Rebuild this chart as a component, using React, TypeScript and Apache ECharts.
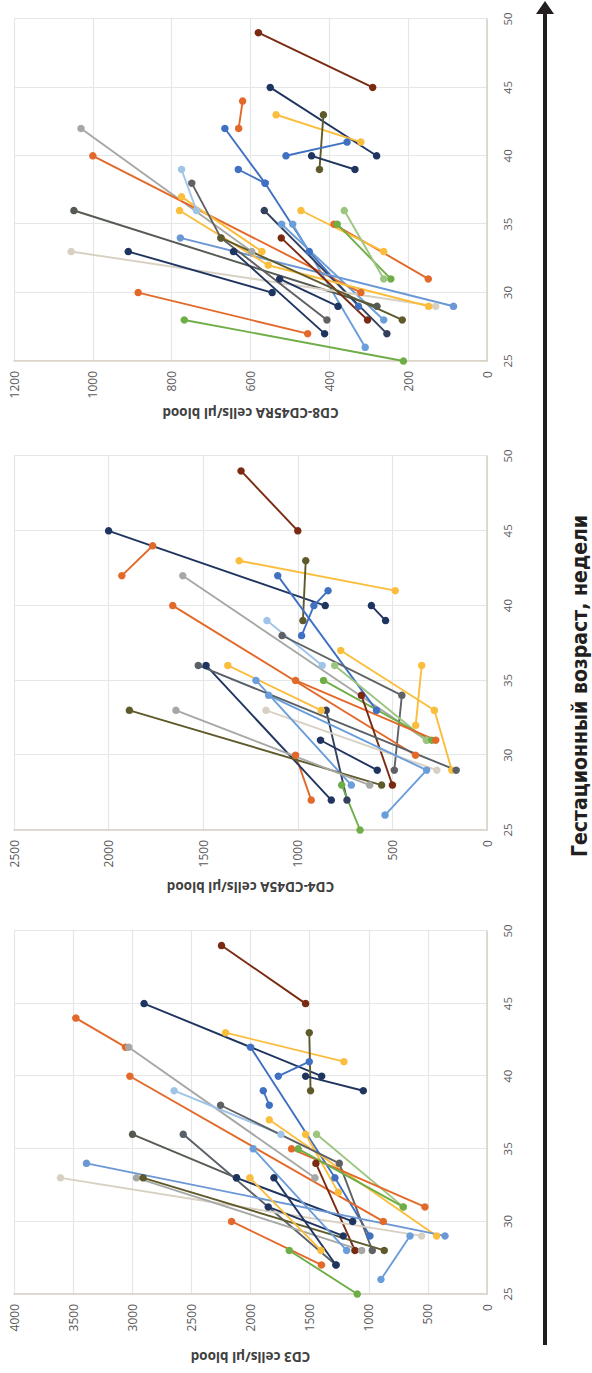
import React, { useEffect, useRef } from "react";
import * as echarts from "echarts";

// ---------- data ----------
const weekTicks = [25, 30, 35, 40, 45, 50];
const cd3Ticks = [0, 500, 1000, 1500, 2000, 2500, 3000, 3500, 4000];
const cd4Ticks = [0, 500, 1000, 1500, 2000, 2500];
const cd8Ticks = [0, 200, 400, 600, 800, 1000, 1200];

const axisTitles = ["CD3 cells/μl blood", "CD4-CD45A cells/μl blood", "CD8-CD45RA cells/μl blood"];
const weekTitle = "Гестационный возраст, недели";

// CD3 panel: colour group, gestational weeks, cells/μl
const cd3Group = ["brown", "navy", "orange", "lightgray", "yellow", "olive", "blue", "navy", "blue", "blue",
  "yellow", "yellow", "lightgreen", "lightblue", "darkgray", "orange", "orange", "green", "brown", "darktex",
  "navy", "graytex", "bluetex", "beige", "lightgray", "olive", "navy", "navy", "yellow", "skyblue",
  "orange", "green", "skyblue"];
const cd3Weeks = [[49, 45], [45, 40], [44, 42], [42, 33], [43, 41], [43, 39], [41, 40], [40, 39], [42, 33, 29], [39, 38],
  [37, 29], [36, 32], [36, 31], [39, 36], [38, 34, 28], [40, 30], [35, 31], [35, 31], [34, 28], [36, 33],
  [33, 30], [36, 27], [34, 29], [33, 29], [33, 28], [33, 28], [31, 29], [33, 27], [33, 28], [35, 28],
  [30, 27], [28, 25], [29, 26]];
const cd3Cells = [[2245, 1534], [2900, 1398], [3477, 3057], [3030, 1455], [2211, 1210], [1503, 1492], [1503, 1765], [1534, 1046], [2000, 1286, 990], [1892, 1841],
  [1841, 426], [1534, 1258], [1441, 708], [2646, 1743], [2253, 1249, 970], [3020, 877], [1653, 525], [1597, 708], [1447, 1117], [2998, 2118],
  [2118, 1136], [2569, 1277], [3387, 355], [3607, 553], [2964, 1060], [2908, 869], [1850, 1216], [1802, 1277], [2005, 1404], [1977, 1187],
  [2160, 1400], [1672, 1097], [651, 897]];

// CD4-CD45A panel
const cd4Group = ["brown", "navy", "orange", "yellow", "lightgray", "olive", "blue", "navy", "blue", "lightblue",
  "darkgray", "yellow", "yellow", "lightgreen", "green", "orange", "orange", "brown", "navytex", "yellow",
  "beige", "skyblue", "skyblue", "navy", "orange", "navy", "graytex", "olive", "lightgray", "green"];
const cd4Weeks = [[49, 45], [45, 40], [42, 44], [43, 41], [42, 31], [43, 39], [38, 40, 41], [40, 39], [42, 33], [39, 36],
  [38, 34, 29], [37, 33, 29], [36, 32], [36, 31], [35, 31], [35, 31], [40, 30], [34, 28], [33, 27], [36, 33],
  [33, 29], [35, 28], [34, 29, 26], [31, 29], [30, 27], [36, 27], [36, 29], [33, 28], [33, 28], [28, 25]];
const cd4Cells = [[1300, 1000], [2000, 855], [1930, 1767], [1310, 485], [1608, 320], [958, 973], [980, 915, 840], [611, 536], [1106, 584], [1163, 871],
  [1083, 450, 490], [773, 278, 186], [345, 377], [805, 320], [864, 292], [1012, 271], [1661, 378], [664, 500], [850, 740], [1370, 876],
  [1168, 265], [1221, 717], [1154, 319, 539], [880, 580], [1012, 929], [1485, 823], [1526, 163], [1890, 557], [1644, 620], [768, 671]];

// CD8-CD45RA panel
const cd8Group = ["brown", "navy", "yellow", "olive", "blue", "navy", "orange", "blue", "blue", "skyblue",
  "skyblue", "lightgray", "orange", "darktex", "navytex", "beige", "navy", "bluetex", "navy", "yellow",
  "yellow", "orange", "green", "orange", "yellow", "green", "lightgreen", "brown", "navy", "lightblue",
  "darkgray", "olive"];
const cd8Weeks = [[49, 45], [45, 40], [43, 41], [43, 39], [40, 41], [40, 39], [44, 42], [42, 38, 33, 29], [39, 38], [35, 28],
  [35, 26], [42, 33], [40, 30], [36, 29], [36, 27], [33, 29], [33, 30], [34, 29], [33, 27], [37, 33],
  [36, 32, 29], [30, 27], [28, 25], [35, 31], [36, 33], [35, 31], [36, 31], [34, 28], [31, 29], [39, 36],
  [38, 34, 28], [34, 28]];
const cd8Cells = [[580, 290], [550, 280], [535, 320], [415, 425], [510, 355], [445, 335], [620, 630], [665, 563, 451, 326], [631, 563], [521, 262],
  [493, 309], [1030, 597], [1000, 320], [1048, 279], [565, 254], [1055, 130], [910, 545], [778, 85], [643, 412], [775, 571],
  [780, 555, 148], [885, 455], [768, 212], [388, 149], [472, 262], [380, 244], [362, 262], [522, 303], [526, 378], [775, 737],
  [749, 675, 406], [675, 215]];

// ---------- styles ----------
const PALETTE: Record<string, string> = {
  brown: "#7a2a10",
  navy: "#1f3560",
  navytex: "#33415c",
  orange: "#e2692a",
  lightgray: "#a6a8a4",
  yellow: "#fbbd3c",
  olive: "#5f5a2b",
  blue: "#4070c2",
  skyblue: "#6a9edb",
  lightblue: "#9fc4e8",
  bluetex: "#6b97d4",
  darkgray: "#5f6164",
  darktex: "#555a52",
  graytex: "#5a6068",
  lightgreen: "#9cc580",
  green: "#6fae47",
  beige: "#d8d1c3",
};

const FONT = "'Open Sans', 'Noto Sans', sans-serif";
const GRIDS = [
  { left: 79, top: 14, width: 363, height: 473 },
  { left: 543, top: 14, width: 374, height: 473 },
  { left: 1012, top: 14, width: 342, height: 473 },
];
const NAME_GAPS = [56, 50, 45];

function buildOption() {
  const panels = [
    { group: cd3Group, weeks: cd3Weeks, cells: cd3Cells, ticks: cd3Ticks },
    { group: cd4Group, weeks: cd4Weeks, cells: cd4Cells, ticks: cd4Ticks },
    { group: cd8Group, weeks: cd8Weeks, cells: cd8Cells, ticks: cd8Ticks },
  ];
  const xAxis: any[] = [];
  const yAxis: any[] = [];
  const series: any[] = [];
  panels.forEach((p, i) => {
    xAxis.push({
      type: "value",
      gridIndex: i,
      min: weekTicks[0],
      max: weekTicks[weekTicks.length - 1],
      interval: weekTicks[1] - weekTicks[0],
      axisLine: { show: true, lineStyle: { color: "#d8d0c2", width: 1.5 } },
      axisTick: { show: false },
      splitLine: { show: true, lineStyle: { color: "#e4e7e7", width: 1.2 } },
      axisLabel: { color: "#595959", fontSize: 11.5, fontFamily: FONT, margin: 14, formatter: (v: number) => String(v) },
    });
    yAxis.push({
      type: "value",
      gridIndex: i,
      min: p.ticks[0],
      max: p.ticks[p.ticks.length - 1],
      interval: p.ticks[1] - p.ticks[0],
      name: axisTitles[i],
      nameLocation: "middle",
      nameGap: NAME_GAPS[i],
      nameRotate: 90,
      nameTextStyle: { color: "#404040", fontSize: 13.5, fontWeight: "bold", fontFamily: FONT },
      axisLine: { show: true, lineStyle: { color: "#d8d0c2", width: 1.5 } },
      axisTick: { show: false },
      splitLine: { show: true, lineStyle: { color: "#e4e7e7", width: 1.2 } },
      axisLabel: { color: "#595959", fontSize: 12, fontFamily: FONT, margin: 10, formatter: (v: number) => String(v) },
    });
    p.group.forEach((g, k) => {
      const color = PALETTE[g];
      series.push({
        type: "line",
        xAxisIndex: i,
        yAxisIndex: i,
        data: p.weeks[k].map((w, j) => [w, p.cells[k][j]]),
        symbol: "circle",
        symbolSize: 7.5,
        showSymbol: true,
        itemStyle: { color },
        lineStyle: { color, width: 1.9 },
        silent: true,
        z: 2,
      });
    });
  });
  return {
    animation: false,
    backgroundColor: "#ffffff",
    grid: GRIDS.map((g) => ({ ...g, containLabel: false })),
    xAxis,
    yAxis,
    series,
    graphic: [
      { type: "line", shape: { x1: 28, y1: 545, x2: 1362, y2: 545 }, style: { stroke: "#231f20", lineWidth: 4 } },
      { type: "polygon", shape: { points: [[1372, 545], [1359, 536], [1359, 554]] }, style: { fill: "#231f20" } },
      {
        type: "text",
        x: 687,
        y: 580,
        style: {
          text: weekTitle,
          fill: "#231f20",
          fontSize: 21,
          fontWeight: "bold",
          fontFamily: "'Liberation Sans Narrow', 'DejaVu Sans Condensed', 'Noto Sans', sans-serif",
          align: "center",
          verticalAlign: "middle",
        },
      },
    ],
  };
}

export default function App() {
  const ref = useRef<HTMLDivElement>(null);
  useEffect(() => {
    if (!ref.current) return;
    const chart = echarts.init(ref.current, null, { renderer: "svg", width: 1373, height: 592 });
    chart.setOption(buildOption() as any);
    return () => chart.dispose();
  }, []);
  return (
    <div style={{ position: "fixed", left: 0, top: 0, width: 592, height: 1373, overflow: "hidden", background: "#fff" }}>
      <div
        ref={ref}
        style={{
          position: "absolute",
          left: 0,
          top: 0,
          width: 1373,
          height: 592,
          transformOrigin: "0 0",
          transform: "rotate(-90deg) translateX(-100%)",
        }}
      />
    </div>
  );
}
